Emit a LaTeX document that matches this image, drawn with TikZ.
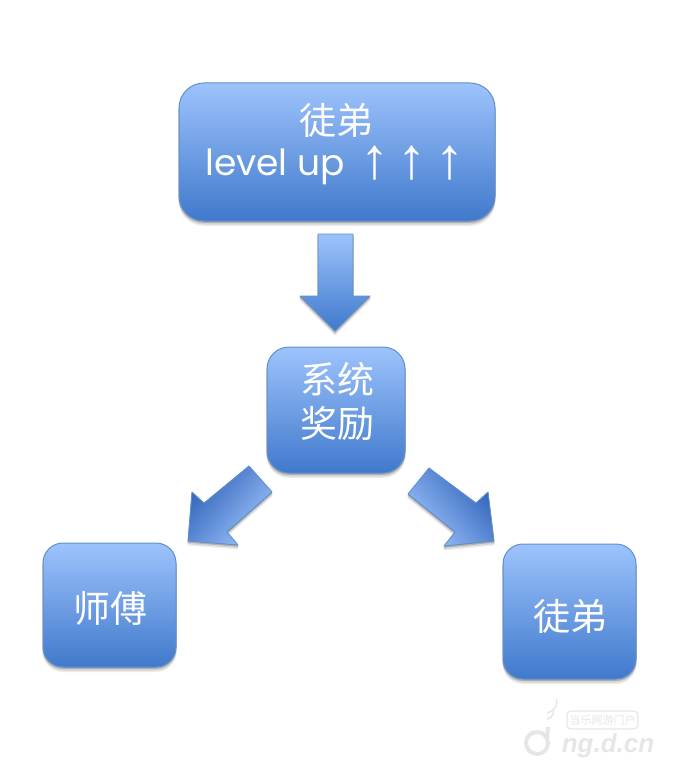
\documentclass[tikz,border=0pt]{standalone}
\usepackage{fontspec}
\setmainfont{Poppins}
\newfontfamily\cjk{Noto Sans CJK SC}
\newfontfamily\arw{Liberation Sans}
\newfontfamily\wm{Liberation Sans}
\definecolor{gtop}{HTML}{9DC3FC}
\definecolor{gbot}{HTML}{4079CC}
\definecolor{gdeep}{HTML}{2F62B8}
\definecolor{edgeb}{HTML}{6090CC}
\definecolor{wmc}{HTML}{E6E6E6}
\tikzset{
  blockbox/.style={rectangle,draw=edgeb,line width=1pt,
    top color=gtop,bottom color=gbot,inner sep=0pt},
  cjklabel/.style={text=white,inner sep=0pt,font=\cjk\fontsize{37}{44}\selectfont},
  uparrow/.style={text=white,inner sep=0pt,font=\arw\fontsize{58}{60}\selectfont},
  blockarrow/.style={draw=edgeb,line width=.9pt,line join=round,
    shading=axis,top color=gtop,bottom color=gbot},
  diagarrow/.style={blockarrow,top color=gtop,bottom color=gdeep},
  wmtext/.style={text=wmc,inner sep=0pt},
  shadowa/.style={fill=black!7,draw=black!7,line width=1pt,line join=round},
  shadowb/.style={fill=black!17,draw=black!17,line width=1pt,line join=round},
  shadowc/.style={fill=black!32,draw=black!32,line width=.6pt,line join=round},
}
\newcommand{\softbox}[6]{%
  \fill[shadowa,rounded corners=#6pt] ({#2-#4/2},{#3-#5/2+4.5}) rectangle ({#2+#4/2},{#3+#5/2+4.5});
  \fill[shadowb,rounded corners=#6pt] ({#2-#4/2},{#3-#5/2+3}) rectangle ({#2+#4/2},{#3+#5/2+3});
  \fill[shadowc,rounded corners=#6pt] ({#2-#4/2},{#3-#5/2+1.5}) rectangle ({#2+#4/2},{#3+#5/2+1.5});
  \node[blockbox,rounded corners=#6pt,minimum width=#4pt,minimum height=#5pt] (#1) at (#2,#3) {};}
\newcommand{\softarrow}[2]{%
  \path[shadowa,yshift=-4pt] #2;
  \path[shadowb,yshift=-2.6pt] #2;
  \path[shadowc,yshift=-1.3pt] #2;
  \path[#1] #2;}
\begin{document}
\begin{tikzpicture}[x=1pt,y=-1pt]
\useasboundingbox (0,0) rectangle (673,773);
\fill[white] (0,0) rectangle (673,773);
% boxes
\softbox{top}{337}{152}{316}{138}{25}
\softbox{sys}{336}{410}{138}{126}{22}
\softbox{master}{109.5}{605}{133}{124}{20}
\softbox{pupil}{569.5}{611.5}{133}{135}{20}
\node[cjklabel] (toptitle) at (336.5,120) {徒弟};
\node[text=white,inner sep=0pt,font=\fontsize{36}{40}\selectfont,anchor=base west] (toplevel) at (205,175) {level up};
\node[uparrow] (up1) at (375,163) {↑};
\node[uparrow] (up2) at (412,163) {↑};
\node[uparrow] (up3) at (450,163) {↑};
\node[cjklabel] (sysa) at (337,379) {系统};
\node[cjklabel] (sysb) at (337,423) {奖励};
\node[cjklabel] (mastert) at (110,608) {师傅};
\node[cjklabel] (pupilt) at (570,616) {徒弟};
% block arrows
\softarrow{blockarrow}{(318,234) -- (353,234) -- (353,296) -- (370,296) -- (335,331) -- (300,296) -- (318,296) -- cycle}
\softarrow{diagarrow,shading angle=-130}{(249,466) -- (272,492) -- (227,532) -- (238,545) -- (188,541) -- (192,492) -- (204,503) -- cycle}
\softarrow{diagarrow,shading angle=130}{(429,468) -- (408,494) -- (455,532) -- (444,546) -- (494,541) -- (488,492) -- (476,503) -- cycle}
% watermark
\draw[wmc,line width=4pt] (537,743) circle (11pt);
\draw[wmc,line width=4pt] (547,738) -- (548,727);
\draw[wmc,line width=1.5pt] (547,719) arc (-80:10:8pt);
\draw[wmc,line width=1.5pt] (547,713) arc (-80:10:12pt);
\draw[wmc,line width=1.2pt,rounded corners=4pt,fill=white] (567,711) rectangle (638,729);
\node[wmtext,font=\cjk\fontsize{11}{12}\selectfont] (wmcap) at (602.5,720) {当乐网游门户};
\node[wmtext,font=\wm\bfseries\itshape\fontsize{26}{28}\selectfont] (wmname) at (608,746) {ng.d.cn};
\end{tikzpicture}
\end{document}
